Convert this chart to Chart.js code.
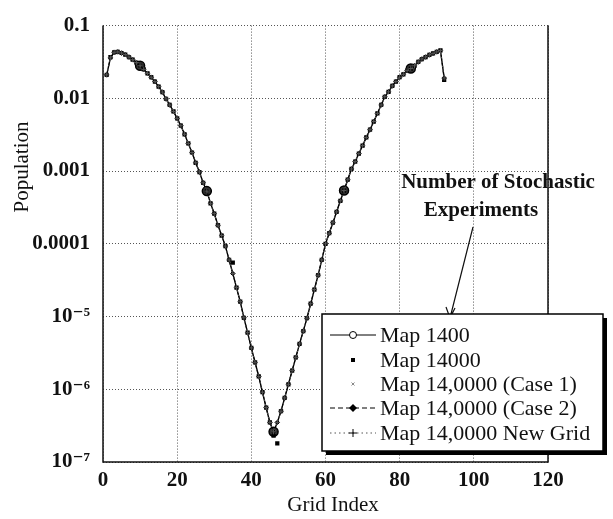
<!DOCTYPE html>
<html>
<head>
<meta charset="utf-8">
<script src="https://cdn.jsdelivr.net/npm/chart.js@4/dist/chart.umd.min.js"></script>
<style>
  html, body { margin: 0; padding: 0; background: #fff; }
  #wrap { width: 613px; height: 519px; position: relative; }
</style>
</head>
<body>
<div id="wrap"><canvas id="chart" width="613" height="519"></canvas></div>
<script>
const gridIndex = [
  1, 2, 3, 4, 5, 6, 7, 8, 9, 10, 11, 12, 13, 14, 15, 16, 17, 18, 19, 20,
  21, 22, 23, 24, 25, 26, 27, 28, 29, 30, 31, 32, 33, 34, 35, 36, 37, 38, 39, 40,
  41, 42, 43, 44, 45, 46, 47, 48, 49, 50, 51, 52, 53, 54, 55, 56, 57, 58, 59, 60,
  61, 62, 63, 64, 65, 66, 67, 68, 69, 70, 71, 72, 73, 74, 75, 76, 77, 78, 79, 80,
  81, 82, 83, 84, 85, 86, 87, 88, 89, 90, 91, 92
];

// Map 1400 / case runs (the curves all sit on top of each other)
const population = [
  0.021, 0.036, 0.043, 0.0435, 0.042, 0.040, 0.037, 0.034, 0.031, 0.028,
  0.025, 0.022, 0.0195, 0.017, 0.0145, 0.0122, 0.0098, 0.0081, 0.0066, 0.0053,
  0.0042, 0.0032, 0.0024, 0.0018, 0.0013, 0.00097, 0.00069, 0.00053, 0.00036, 0.00026,
  0.00018, 0.00013, 0.000093, 0.00006, 0.000039, 0.000025, 0.000016, 0.0000096, 0.000006, 0.0000037,
  0.00000235, 0.0000015, 0.00000091, 0.00000056, 0.00000035, 0.00000026, 0.00000035, 0.0000005, 0.00000076, 0.00000117,
  0.0000018, 0.00000275, 0.0000042, 0.0000063, 0.0000095, 0.000015, 0.0000235, 0.000037, 0.00006, 0.0001,
  0.00014, 0.000195, 0.000275, 0.00039, 0.00054, 0.00076, 0.00107, 0.00135, 0.00174, 0.00224,
  0.0029, 0.0037, 0.0048, 0.0062, 0.0081, 0.0105, 0.0123, 0.0148, 0.017, 0.0195,
  0.0214, 0.024, 0.0257, 0.028, 0.0316, 0.0347, 0.037, 0.0395, 0.0415, 0.0435,
  0.0455, 0.019
];

// Map 14000 squares
const map14000 = [
  0.021, 0.037, 0.043, 0.0435, 0.042, 0.040, 0.037, 0.034, 0.031, 0.028,
  0.025, 0.022, 0.0195, 0.017, 0.0145, 0.0122, 0.0098, 0.0081, 0.0066, 0.0053,
  0.0042, 0.0032, 0.0024, 0.0018, 0.0013, 0.00097, 0.00069, 0.00053, 0.00036, 0.00026,
  0.00018, 0.00013, 0.000093, 0.00006, 0.000055, 0.000025, 0.000016, 0.0000096, 0.000006, 0.0000037,
  0.00000235, 0.0000015, 0.00000091, 0.00000056, 0.00000035, 0.00000023, 0.00000018, 0.0000005, 0.00000076, 0.00000117,
  0.0000018, 0.00000275, 0.0000042, 0.0000063, 0.0000095, 0.000015, 0.0000235, 0.000037, 0.00006, 0.0001,
  0.00014, 0.000195, 0.000275, 0.00039, 0.00054, 0.00076, 0.00107, 0.00135, 0.00174, 0.00224,
  0.0029, 0.0037, 0.0048, 0.0062, 0.0081, 0.0105, 0.0123, 0.0148, 0.017, 0.0195,
  0.0214, 0.024, 0.0257, 0.028, 0.0316, 0.0347, 0.037, 0.0395, 0.0415, 0.0435,
  0.0455, 0.018
];

const map1400Marks = [10, 28, 46, 65, 83];

const xTicks = [0, 20, 40, 60, 80, 100, 120];
const yTickValues = [1e-7, 1e-6, 1e-5, 1e-4, 1e-3, 1e-2, 1e-1];
const yTickLabels = ['10\u207B\u2077', '10\u207B\u2076', '10\u207B\u2075', '0.0001', '0.001', '0.01', '0.1'];

const legendLabels = [
  'Map 1400',
  'Map 14000',
  'Map 14,0000 (Case 1)',
  'Map 14,0000 (Case 2)',
  'Map 14,0000 New Grid'
];

const serif = '"Liberation Serif", "DejaVu Serif", serif';

function pts(values) {
  return gridIndex.map((x, i) => ({ x, y: values[i] }));
}

function drawMarker(c, style, x, y) {
  c.save();
  c.strokeStyle = '#000';
  c.fillStyle = '#000';
  c.lineWidth = 1;
  c.setLineDash([]);
  c.beginPath();
  if (style === 'circle') {
    c.fillStyle = '#fff';
    c.arc(x, y, 3.5, 0, Math.PI * 2);
    c.fill();
    c.stroke();
  } else if (style === 'rect') {
    c.fillRect(x - 2, y - 2, 4, 4);
  } else if (style === 'crossRot') {
    c.strokeStyle = '#888';
    c.moveTo(x - 1.5, y - 1.5); c.lineTo(x + 1.5, y + 1.5);
    c.moveTo(x + 1.5, y - 1.5); c.lineTo(x - 1.5, y + 1.5);
    c.stroke();
  } else if (style === 'rectRot') {
    c.moveTo(x, y - 4); c.lineTo(x + 4, y); c.lineTo(x, y + 4); c.lineTo(x - 4, y);
    c.closePath();
    c.fill();
  } else if (style === 'cross') {
    c.moveTo(x - 4, y); c.lineTo(x + 4, y);
    c.moveTo(x, y - 4); c.lineTo(x, y + 4);
    c.stroke();
  }
  c.restore();
}

const decorations = {
  id: 'decorations',
  afterDraw(chart) {
    const { ctx: c, chartArea: a } = chart;
    c.save();

    // solid frame on left, bottom and right
    c.strokeStyle = '#111';
    c.lineWidth = 1.5;
    c.beginPath();
    c.moveTo(a.left, a.top);
    c.lineTo(a.left, a.bottom);
    c.lineTo(a.right, a.bottom);
    c.lineTo(a.right, a.top);
    c.stroke();

    // axis titles
    c.fillStyle = '#111';
    c.font = '21px ' + serif;
    c.textAlign = 'center';
    c.textBaseline = 'middle';
    c.fillText('Grid Index', 333, 505);
    c.save();
    c.translate(22, 167);
    c.rotate(-Math.PI / 2);
    c.fillText('Population', 0, 0);
    c.restore();

    // annotation
    c.font = 'bold 21px ' + serif;
    c.fillText('Number of Stochastic', 498, 183);
    c.fillText('Experiments', 481, 211);
    c.strokeStyle = '#111';
    c.lineWidth = 1.2;
    c.beginPath();
    c.moveTo(473, 227);
    c.lineTo(450, 318);
    c.moveTo(446, 307);
    c.lineTo(450, 318);
    c.lineTo(455, 308);
    c.stroke();

    // legend box with shadow
    const bx = 322, by = 314, bw = 281, bh = 137;
    c.fillStyle = '#000';
    c.fillRect(bx + 4, by + 4, bw, bh);
    c.fillStyle = '#fff';
    c.fillRect(bx, by, bw, bh);
    c.strokeStyle = '#000';
    c.lineWidth = 1.5;
    c.strokeRect(bx, by, bw, bh);

    const rows = [335, 360, 384, 408, 433];
    const lineDash = [[], null, null, [5, 3], [1.5, 3]];
    const markers = ['circle', 'rect', 'crossRot', 'rectRot', 'cross'];
    legendLabels.forEach((label, i) => {
      const y = rows[i];
      if (lineDash[i]) {
        c.save();
        c.strokeStyle = i === 4 ? '#555' : '#000';
        c.lineWidth = 1;
        c.setLineDash(lineDash[i]);
        c.beginPath();
        c.moveTo(330, y);
        c.lineTo(376, y);
        c.stroke();
        c.restore();
      }
      drawMarker(c, markers[i], 353, y);
      c.fillStyle = '#111';
      c.font = '22px ' + serif;
      c.textAlign = 'left';
      c.textBaseline = 'middle';
      c.fillText(label, 380, y + 1);
    });

    c.restore();
  }
};

new Chart(document.getElementById('chart'), {
  type: 'line',
  data: {
    datasets: [
      {
        label: legendLabels[4],
        data: pts(population),
        borderColor: '#555',
        borderWidth: 1,
        borderDash: [1.5, 3],
        pointStyle: 'cross',
        pointRadius: 2.5,
        pointBorderColor: '#555',
        pointBorderWidth: 1
      },
      {
        label: legendLabels[3],
        data: pts(population),
        borderColor: '#000',
        borderWidth: 1,
        borderDash: [5, 3],
        pointStyle: 'rectRot',
        pointRadius: 2.2,
        pointBackgroundColor: '#000',
        pointBorderColor: '#000'
      },
      {
        label: legendLabels[2],
        data: pts(population),
        showLine: false,
        pointStyle: 'crossRot',
        pointRadius: 2,
        pointBorderColor: '#888',
        pointBorderWidth: 1
      },
      {
        label: legendLabels[1],
        data: pts(map14000),
        showLine: false,
        pointStyle: 'rect',
        pointRadius: 3,
        pointBackgroundColor: '#000',
        pointBorderColor: '#000',
        pointBorderWidth: 0
      },
      {
        label: legendLabels[0],
        data: pts(population),
        borderColor: '#000',
        borderWidth: 1.4,
        pointStyle: 'circle',
        pointRadius: (ctx) => map1400Marks.includes(gridIndex[ctx.dataIndex]) ? 4.5 : 0,
        pointBackgroundColor: '#333',
        pointBorderColor: '#000',
        pointBorderWidth: 1.5
      }
    ]
  },
  options: {
    responsive: false,
    animation: false,
    events: [],
    layout: { autoPadding: false, padding: { left: 0, top: 20, right: 65, bottom: 0 } },
    plugins: { legend: { display: false }, tooltip: { enabled: false } },
    elements: { line: { tension: 0 } },
    scales: {
      x: {
        type: 'linear',
        min: 0,
        max: 120,
        afterFit(s) { s.height = 57; },
        afterBuildTicks(s) { s.ticks = xTicks.map((v) => ({ value: v })); },
        border: { display: false, dash: [1, 2] },
        grid: { color: '#555', lineWidth: 1, drawTicks: false },
        ticks: {
          color: '#111',
          padding: 6,
          font: { family: serif, size: 21, weight: 'bold' }
        }
      },
      y: {
        type: 'logarithmic',
        min: 1e-7,
        max: 0.1,
        afterFit(s) { s.width = 103; },
        afterBuildTicks(s) { s.ticks = yTickValues.map((v) => ({ value: v })); },
        border: { display: false, dash: [1, 2] },
        grid: { color: '#555', lineWidth: 1, drawTicks: false },
        ticks: {
          color: '#111',
          padding: 13,
          font: { family: serif, size: 21, weight: 'bold' },
          callback(v) {
            const i = yTickValues.findIndex((t) => Math.abs(Math.log10(t) - Math.log10(v)) < 1e-6);
            return i >= 0 ? yTickLabels[i] : '';
          }
        }
      }
    }
  },
  plugins: [decorations]
});
</script>
</body>
</html>
